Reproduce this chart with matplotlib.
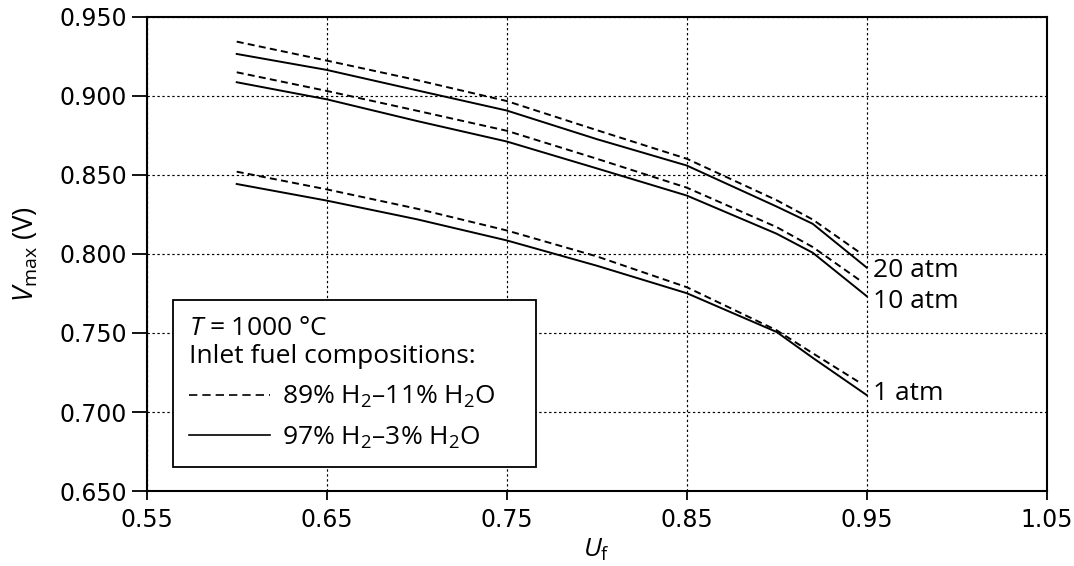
import matplotlib
matplotlib.use("Agg")
import matplotlib.pyplot as plt
from matplotlib.lines import Line2D

plt.rcParams['mathtext.fontset'] = 'custom'
plt.rcParams['mathtext.rm'] = 'Open Sans'
plt.rcParams['mathtext.it'] = 'Open Sans:italic'

# ---------------- data ----------------
u_solid = [0.60, 0.65, 0.70, 0.75, 0.80, 0.85, 0.90, 0.92, 0.95]
u_dashed = [0.60, 0.65, 0.70, 0.75, 0.80, 0.85, 0.90, 0.92, 0.946]

v20_89 = [0.9344, 0.9224, 0.9101, 0.8968, 0.8784, 0.8603, 0.8340, 0.8218, 0.8010]
v20_97 = [0.9266, 0.9165, 0.9036, 0.8908, 0.8727, 0.8560, 0.8300, 0.8191, 0.7914]
v10_89 = [0.9150, 0.9032, 0.8907, 0.8780, 0.8603, 0.8420, 0.8170, 0.8044, 0.7835]
v10_97 = [0.9087, 0.8979, 0.8842, 0.8712, 0.8542, 0.8370, 0.8128, 0.8008, 0.7733]
v1_89 = [0.8521, 0.8409, 0.8287, 0.8149, 0.7985, 0.7790, 0.7517, 0.7372, 0.7187]
v1_97 = [0.8443, 0.8338, 0.8220, 0.8086, 0.7926, 0.7752, 0.7506, 0.7343, 0.7107]

pressure_labels = ["20 atm", "10 atm", "1 atm"]
label_y = [0.7894, 0.7698, 0.7114]

x_ticks = [0.55, 0.65, 0.75, 0.85, 0.95, 1.05]
y_ticks = [0.650, 0.700, 0.750, 0.800, 0.850, 0.900, 0.950]

legend_title = "$T$ = 1000 °C\nInlet fuel compositions:"
legend_labels = ["89% H$_2$–11% H$_2$O", "97% H$_2$–3% H$_2$O"]

FS = 19

# ---------------- figure ----------------
fig = plt.figure(figsize=(10.74, 5.66), dpi=100)
ax = fig.add_axes([0.1366, 0.1325, 0.8380, 0.8375])

dash = (0, (3.6, 2.2))
lw = 1.4
for yd, ys in [(v20_89, v20_97), (v10_89, v10_97), (v1_89, v1_97)]:
    ax.plot(u_dashed, yd, color='black', lw=lw, linestyle=dash, zorder=3)
    ax.plot(u_solid, ys, color='black', lw=lw, linestyle='-', zorder=3)

for lab, yy in zip(pressure_labels, label_y):
    ax.text(0.9535, yy, lab, fontsize=FS, family='Open Sans',
            va='center', ha='left', color='black')

ax.set_xlim(0.55, 1.05)
ax.set_ylim(0.65, 0.95)
ax.set_xticks(x_ticks)
ax.set_yticks(y_ticks)
ax.set_xticklabels([f"{v:.2f}" for v in x_ticks])
ax.set_yticklabels([f"{v:.3f}" for v in y_ticks])

ax.grid(True, color='black', linestyle=(0, (2.0, 2.2)), lw=0.85, zorder=1)
ax.set_axisbelow(True)

for sp in ax.spines.values():
    sp.set_linewidth(1.5)

ax.tick_params(axis='y', direction='out', length=11, width=1.3, pad=3.0,
               labelsize=17)
ax.tick_params(axis='x', direction='out', length=6.5, width=1.3, pad=6,
               labelsize=17)
for t in ax.get_xticklabels() + ax.get_yticklabels():
    t.set_family('DejaVu Sans')

ax.set_ylabel(r"$V_{\rm max}$ (V)", fontsize=20, family='Open Sans', labelpad=14)
ax.set_xlabel(r"$U_{\rm f}$", fontsize=FS, family='Open Sans', labelpad=3)

handles = [Line2D([0], [0], color='black', lw=1.2, linestyle=(0, (5.0, 3.0))),
           Line2D([0], [0], color='black', lw=1.2, linestyle='-')]
leg = ax.legend(handles, legend_labels, title=legend_title,
                loc='lower left', bbox_to_anchor=(0.0289, 0.0513, 0.4033, 0.346),
                mode='expand', borderaxespad=0.0,
                prop={'family': 'Open Sans', 'size': FS},
                title_fontproperties={'family': 'Open Sans', 'size': FS},
                alignment='left', fancybox=False, framealpha=1,
                edgecolor='black', handlelength=3.1, handletextpad=0.45,
                borderpad=0.6, labelspacing=0.55)
leg.get_frame().set_linewidth(1.3)
leg.set_zorder(5)

fig.savefig("out.png", dpi=100, facecolor='white')
